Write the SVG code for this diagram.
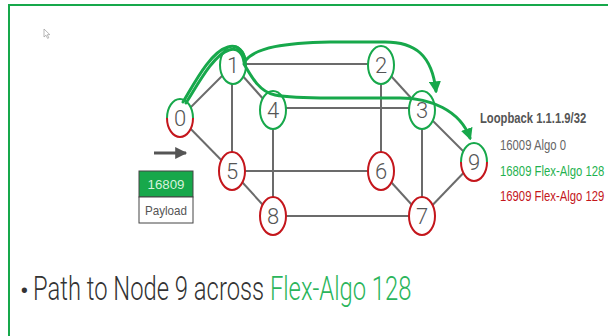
<svg xmlns="http://www.w3.org/2000/svg" width="608" height="336" viewBox="0 0 608 336">
<defs>
<style>
.edge{stroke:#6b6b6b;stroke-width:2;fill:none}
.node{fill:#fff;stroke-width:2}
.g{stroke:#17a84b}
.r{stroke:#c4161c}
.num{font-family:Roboto,"Liberation Sans",sans-serif;font-weight:300;font-size:22px;fill:#555;text-anchor:middle}
.path{stroke:#17a84b;stroke-width:3;fill:none;stroke-linecap:round}
.lbl{font-family:"Liberation Sans",Arial,sans-serif}
</style>
<marker id="ga" viewBox="0 0 10 10" refX="8" refY="5" markerWidth="4" markerHeight="4" orient="auto" markerUnits="strokeWidth">
<path d="M0,0 L10,5 L0,10 Z" fill="#17a84b"/>
</marker>
<marker id="da" viewBox="0 0 10 10" refX="9" refY="5" markerWidth="4.5" markerHeight="4" orient="auto" markerUnits="strokeWidth">
<path d="M0,0 L10,5 L0,10 Z" fill="#555"/>
</marker>
</defs>
<rect width="608" height="336" fill="#fff"/>
<g id="frame">
<line x1="8" y1="5" x2="608" y2="5" stroke="#17a84b" stroke-width="2"/>
<line x1="9" y1="4" x2="9" y2="336" stroke="#17a84b" stroke-width="2"/>
</g>
<g id="cursor">
<path d="M44,29 L44,37 L46,35.2 L47.6,38.4 L48.8,37.8 L47.3,34.7 L49.8,34.6 Z" fill="#fff" stroke="#999" stroke-width="0.7"/>
</g>
<g id="connectors">
<line class="edge" x1="180" y1="118" x2="233" y2="65"/>
<line class="edge" x1="180" y1="118" x2="232" y2="171"/>
<line class="edge" x1="233" y1="64" x2="381" y2="64"/>
<line class="edge" x1="233" y1="65" x2="273" y2="110"/>
<line class="edge" x1="232" y1="65" x2="232" y2="171"/>
<line class="edge" x1="381" y1="65" x2="422" y2="110"/>
<line class="edge" x1="381" y1="65" x2="381" y2="171"/>
<line class="edge" x1="273" y1="108" x2="422" y2="108"/>
<line class="edge" x1="273" y1="110" x2="273" y2="216"/>
<line class="edge" x1="422" y1="110" x2="422" y2="216"/>
<line class="edge" x1="422" y1="110" x2="474" y2="162"/>
<line class="edge" x1="232" y1="171" x2="381" y2="171"/>
<line class="edge" x1="232" y1="171" x2="273" y2="216"/>
<line class="edge" x1="381" y1="171" x2="422" y2="216"/>
<line class="edge" x1="273" y1="216" x2="422" y2="216"/>
<line class="edge" x1="422" y1="216" x2="474" y2="162"/>
<line x1="154" y1="153" x2="186" y2="153" stroke="#555" stroke-width="3" marker-end="url(#da)"/>
</g>
<g id="n0">
<ellipse cx="180" cy="118" rx="13" ry="19" fill="#fff"/>
<path d="M167,118 A13,19 0 0 1 193,118" class="g" stroke-width="2" fill="none"/>
<path d="M193,118 A13,19 0 0 1 167,118" class="r" stroke-width="2" fill="none"/>
<text class="num" x="180" y="126">0</text>
</g>
<g id="n1"><ellipse class="node g" cx="233" cy="65" rx="13" ry="19"/><text class="num" x="233" y="73">1</text></g>
<g id="n2"><ellipse class="node g" cx="381" cy="65" rx="13" ry="19"/><text class="num" x="381" y="73">2</text></g>
<g id="n3"><ellipse class="node g" cx="422" cy="110" rx="13" ry="19"/><text class="num" x="422" y="118">3</text></g>
<g id="n4"><ellipse class="node g" cx="273" cy="110" rx="13" ry="19"/><text class="num" x="273" y="118">4</text></g>
<g id="n5"><ellipse class="node r" cx="232" cy="171" rx="13" ry="19"/><text class="num" x="232" y="179">5</text></g>
<g id="n6"><ellipse class="node r" cx="381" cy="171" rx="13" ry="19"/><text class="num" x="381" y="179">6</text></g>
<g id="n7"><ellipse class="node r" cx="422" cy="216" rx="13" ry="19"/><text class="num" x="422" y="224">7</text></g>
<g id="n8"><ellipse class="node r" cx="273" cy="216" rx="13" ry="19"/><text class="num" x="273" y="224">8</text></g>
<g id="n9">
<ellipse cx="474" cy="162" rx="13" ry="19" fill="#fff"/>
<path d="M461,162 A13,19 0 0 1 487,162" class="g" stroke-width="2" fill="none"/>
<path d="M487,162 A13,19 0 0 1 461,162" class="r" stroke-width="2" fill="none"/>
<text class="num" x="474" y="170">9</text>
</g>
<g id="paths">
<path class="path" stroke-width="2.5" d="M183,102 C194,84 210,52 228,47 C238,44 244,52 245,60"/>
<path class="path" stroke-width="2.5" d="M186,103 C197,86 213,55 229,50 C238,47 243,54 244,62"/>
<path class="path" d="M245,61 C256,47 285,43 330,42 L385,42 C415,42 432,55 436,91" marker-end="url(#ga)"/>
<path class="path" d="M244,64 C252,78 260,92 275,95 C285,97 300,98 330,98 L400,98 C430,98 460,110 470,138" marker-end="url(#ga)"/>
</g>
<g id="packet">
<rect x="139" y="171" width="54" height="26" fill="#17a84b" stroke="#444" stroke-width="1"/>
<rect x="139" y="197" width="54" height="26" fill="#fff" stroke="#444" stroke-width="1"/>
<text class="lbl" x="166" y="189" font-size="13" fill="#d6f2dc" text-anchor="middle" textLength="37" lengthAdjust="spacingAndGlyphs">16809</text>
<text class="lbl" x="166" y="215" font-size="13" fill="#555" text-anchor="middle" textLength="42" lengthAdjust="spacingAndGlyphs">Payload</text>
</g>
<g id="legend">
<text class="lbl" transform="translate(480,123) scale(0.75,1)" font-size="15" font-weight="bold" fill="#555">Loopback 1.1.1.9/32</text>
<text class="lbl" transform="translate(500,150) scale(0.78,1)" font-size="14.5" fill="#666">16009 Algo 0</text>
<text class="lbl" transform="translate(500,176) scale(0.78,1)" font-size="14.5" fill="#1fb24f">16809 Flex-Algo 128</text>
<text class="lbl" transform="translate(500,201) scale(0.78,1)" font-size="14.5" fill="#c4161c">16909 Flex-Algo 129</text>
</g>
<g id="caption">
<text x="20" y="300" font-family="Roboto,'Liberation Sans',sans-serif" font-size="26" fill="#333">•</text>
<text transform="translate(33,300) scale(0.7,1)" font-family="Roboto,'Liberation Sans',sans-serif" font-weight="300" font-size="34" fill="#333">Path to Node 9 across <tspan fill="#2bb55b">Flex-Algo 128</tspan></text>
</g>
</svg>
